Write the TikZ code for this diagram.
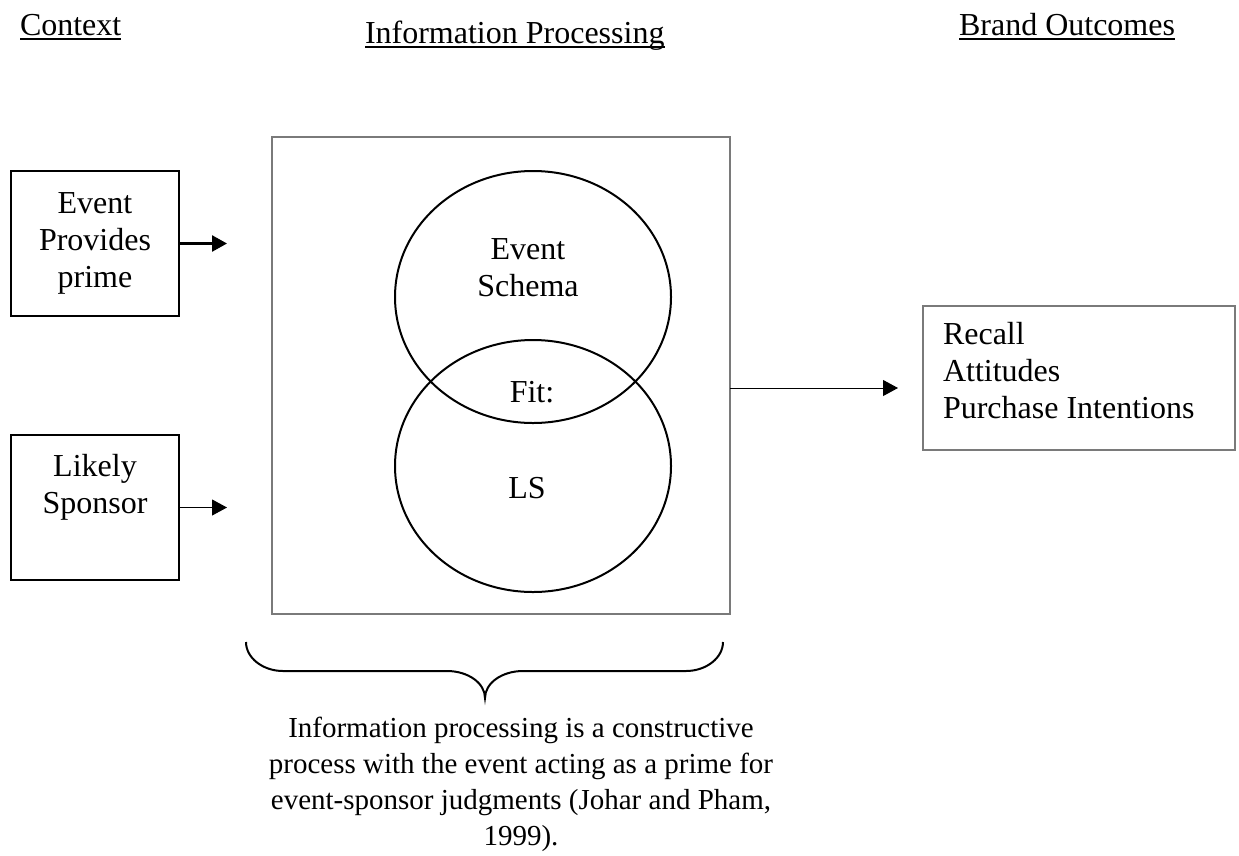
\documentclass[tikz,border=0pt]{standalone}
\usepackage{fontspec}
\setmainfont{Liberation Serif}
\usetikzlibrary{arrows.meta,shapes.geometric}
\definecolor{boxgray}{HTML}{7A7A7A}
\begin{document}
\begin{tikzpicture}[x=1pt,y=-1pt,
  every node/.style={inner sep=0pt, outer sep=0pt},
  txt/.style={font=\fontsize{32}{36.8}\selectfont, align=center, anchor=base},
  captxt/.style={font=\fontsize{29}{35.7}\selectfont, align=center, anchor=base},
  lbox/.style={draw=black, line width=2pt, rectangle, anchor=north west},
  gbox/.style={draw=boxgray, line width=2pt, rectangle, anchor=north west},
  circ/.style={draw=black, ellipse, line width=2pt, minimum width=276pt, minimum height=252pt},
  arr/.style={-{Triangle[length=15pt,width=16pt]}},
  uline/.style={line width=1.6pt},
  brace/.style={line width=2pt}]
\useasboundingbox (0,0) rectangle (1239,855);

% titles
\node[txt, anchor=base west] (h1) at (20,35) {Context};
\node[txt, anchor=base west] (h2) at (365,43) {Information Processing};
\node[txt, anchor=base east] (h3) at (1175,35) {Brand Outcomes};
\draw[uline] ([yshift=-4pt]h1.base west) -- ([yshift=-4pt]h1.base east);
\draw[uline] ([yshift=-4pt]h2.base west) -- ([yshift=-4pt]h2.base east);
\draw[uline] ([yshift=-4pt]h3.base west) -- ([yshift=-4pt]h3.base east);

% boxes
\node[lbox, minimum width=168pt, minimum height=145pt] (b1) at (11,171) {};
\node[lbox, minimum width=168pt, minimum height=145pt] (b2) at (11,435) {};
\node[gbox, minimum width=458pt, minimum height=477pt] (bb) at (272,137) {};
\node[gbox, minimum width=312pt, minimum height=144pt] (rb) at (923,306) {};

% circles
\node[circ] (es) at (533,297) {};
\node[circ] (ls) at (533,466) {};

% texts (base = baseline of the last line)
\node[txt] (t1) at (95,287) {Event\\Provides\\prime};
\node[txt] (t2) at (95,513) {Likely\\Sponsor};
\node[txt] (tes) at (528,296) {Event\\Schema};
\node[txt] (tfit) at (532,402) {Fit:};
\node[txt] (tls) at (527,498) {LS};
\node[txt, align=left, anchor=base west] (tr) at (943,418) {Recall\\Attitudes\\Purchase Intentions};
\node[captxt] (cap) at (521,845) {Information processing is a constructive\\process with the event acting as a prime for\\event-sponsor judgments (Johar and Pham,\\1999).};

% arrows
\coordinate (a1) at (227,243.5);
\coordinate (a2) at (227,507.5);
\coordinate (ry) at (0,388);
\coordinate (r1) at (898,388);
\draw[arr, line width=2.5pt] (b1.east) -- (a1);
\draw[arr, line width=1pt] (b2.east) -- (a2);
\draw[arr, line width=1pt] (bb.east |- ry) -- (r1);

% brace
\draw[brace] (246,642) .. controls (246,658) and (263,671) .. (283,671) -- (447,671)
  .. controls (468,671) and (485,683) .. (485,698)
  .. controls (485,683) and (502,671) .. (523,671) -- (686,671)
  .. controls (706,671) and (723,658) .. (723,642);
\end{tikzpicture}
\end{document}
